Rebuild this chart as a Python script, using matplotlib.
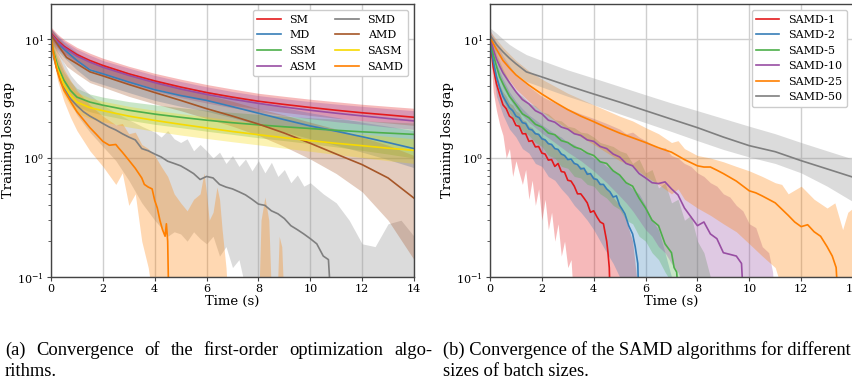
import matplotlib
matplotlib.use("Agg")
import matplotlib.pyplot as plt
from matplotlib.ticker import LogLocator, NullFormatter

plt.rcParams['font.family'] = ['DejaVu Serif']
plt.rcParams['mathtext.fontset'] = 'dejavuserif'

# ---------------- Panel (a) data ----------------
t_sm = [0, 0.25, 0.5, 1, 1.5, 2, 3, 4, 5, 6, 7, 8, 9, 10, 11, 12, 13, 14]
sm_mean = [11.2, 9.7, 8.7, 7.4, 6.6, 6.0, 5.1, 4.45, 3.95, 3.55, 3.25, 3.0, 2.82, 2.66, 2.52, 2.4, 2.3, 2.2]
sm_hi = [12.6, 11.0, 9.9, 8.5, 7.6, 6.9, 5.9, 5.15, 4.6, 4.15, 3.8, 3.5, 3.3, 3.12, 2.97, 2.83, 2.72, 2.62]
sm_lo = [10.0, 8.5, 7.6, 6.4, 5.7, 5.15, 4.4, 3.85, 3.4, 3.05, 2.78, 2.58, 2.42, 2.28, 2.16, 2.06, 1.97, 1.88]
asm_mean = [11.0, 9.5, 8.5, 7.2, 6.4, 5.8, 4.95, 4.3, 3.8, 3.42, 3.12, 2.88, 2.68, 2.52, 2.38, 2.26, 2.15, 2.05]
asm_hi = [12.3, 10.7, 9.6, 8.2, 7.3, 6.6, 5.7, 4.95, 4.4, 3.97, 3.62, 3.35, 3.15, 2.98, 2.84, 2.72, 2.6, 2.5]
asm_lo = [9.8, 8.3, 7.4, 6.2, 5.5, 4.95, 4.2, 3.65, 3.22, 2.9, 2.64, 2.44, 2.28, 2.14, 2.02, 1.92, 1.82, 1.74]

t_md = [0, 0.25, 0.5, 1, 1.5, 2, 3, 4, 5, 6, 7, 8, 9, 10, 11, 12, 13, 14]
md_mean = [10.8, 9.3, 8.2, 6.6, 5.5, 5.1, 4.35, 3.75, 3.35, 3.05, 2.7, 2.38, 2.1, 1.86, 1.68, 1.51, 1.35, 1.2]
md_hi = [12.2, 10.6, 9.4, 7.7, 6.5, 6.0, 5.15, 4.5, 4.0, 3.65, 3.28, 2.95, 2.65, 2.4, 2.2, 2.0, 1.85, 1.7]
md_lo = [9.4, 8.0, 7.0, 5.5, 4.5, 4.15, 3.55, 3.05, 2.72, 2.47, 2.18, 1.9, 1.66, 1.45, 1.28, 1.12, 0.97, 0.83]

t_amd = [0, 0.25, 0.6, 1, 1.5, 2, 3, 4, 5, 6, 7, 8, 9, 10, 11, 12, 13, 14]
amd_mean = [10.8, 9.0, 7.0, 6.2, 5.3, 4.9, 4.15, 3.55, 3.05, 2.6, 2.25, 1.93, 1.62, 1.33, 1.08, 0.88, 0.68, 0.46]
amd_hi = [12.2, 10.4, 8.5, 7.6, 6.6, 6.1, 5.2, 4.5, 3.9, 3.4, 3.0, 2.6, 2.3, 2.0, 1.75, 1.5, 1.28, 1.05]
amd_lo = [9.4, 7.6, 5.9, 5.1, 4.3, 3.95, 3.3, 2.85, 2.5, 2.15, 1.85, 1.55, 1.25, 0.98, 0.74, 0.52, 0.3, 0.14]

t_ss = [0, 0.1, 0.25, 0.5, 0.75, 1, 1.5, 2, 3, 4, 5, 6, 7, 8, 9, 10, 11, 12, 13, 14]
ssm_mean = [10.2, 7.8, 6.0, 4.5, 3.7, 3.25, 2.95, 2.78, 2.52, 2.34, 2.2, 2.08, 1.98, 1.9, 1.83, 1.77, 1.71, 1.66, 1.62, 1.58]
ssm_hi = [11.2, 8.8, 6.9, 5.3, 4.4, 3.85, 3.45, 3.25, 2.98, 2.8, 2.65, 2.52, 2.42, 2.33, 2.25, 2.18, 2.12, 2.06, 2.01, 1.97]
ssm_lo = [9.2, 6.8, 5.1, 3.8, 3.05, 2.7, 2.45, 2.3, 2.08, 1.92, 1.8, 1.68, 1.58, 1.48, 1.4, 1.32, 1.24, 1.16, 1.08, 1.0]
sasm_mean = [10.2, 7.4, 5.6, 4.1, 3.35, 2.95, 2.65, 2.5, 2.25, 2.07, 1.92, 1.79, 1.67, 1.57, 1.48, 1.4, 1.33, 1.27, 1.21, 1.16]
sasm_hi = [11.2, 8.4, 6.4, 4.9, 4.0, 3.55, 3.2, 3.0, 2.72, 2.52, 2.36, 2.22, 2.08, 1.96, 1.86, 1.76, 1.67, 1.59, 1.52, 1.45]
sasm_lo = [9.2, 6.4, 4.8, 3.4, 2.75, 2.4, 2.15, 2.02, 1.82, 1.68, 1.56, 1.46, 1.37, 1.29, 1.21, 1.14, 1.07, 1.01, 0.95, 0.9]

t_smd = [0, 0.1, 0.25, 0.4, 0.5, 0.75, 1, 1.25, 1.5, 1.75, 2, 2.25, 2.5, 2.75, 3, 3.25, 3.5, 3.75, 4, 4.25,
         4.5, 4.75, 5, 5.25, 5.5, 5.75, 6, 6.25, 6.5, 6.75, 7, 7.25, 7.5, 7.75, 8, 8.25, 8.5, 8.75, 9, 9.25,
         9.5, 9.75, 10, 10.25, 10.5, 10.7, 10.8]
smd_mean = [10.3, 7.0, 5.4, 4.3, 3.9, 3.15, 2.75, 2.45, 2.25, 2.1, 1.95, 1.82, 1.72, 1.6, 1.5, 1.42, 1.2, 1.15, 1.08, 1.02,
            0.94, 0.9, 0.86, 0.8, 0.74, 0.66, 0.7, 0.68, 0.6, 0.57, 0.55, 0.52, 0.49, 0.45, 0.41, 0.4, 0.36, 0.34, 0.31, 0.27,
            0.25, 0.23, 0.21, 0.19, 0.15, 0.14, 0.06]
tb_smd = [0, 0.25, 0.5, 0.75, 1, 1.5, 2, 2.5, 3, 3.5, 4, 4.25, 4.5, 4.75, 5, 5.25, 5.5, 5.75, 6, 6.25,
          6.5, 6.75, 7, 7.25, 7.5, 7.75, 8, 8.25, 8.5, 8.75, 9, 9.25, 9.5, 9.75, 10, 10.5, 11, 11.5, 12, 12.5,
          13, 13.5, 14]
smd_hi = [11.0, 8.0, 6.3, 5.0, 4.3, 3.4, 2.8, 2.4, 2.1, 1.85, 1.65, 1.5, 1.7, 1.45, 1.35, 1.45, 1.15, 1.3, 1.15, 1.0,
          1.12, 0.9, 1.05, 0.85, 0.98, 0.78, 0.95, 0.75, 0.92, 0.7, 0.8, 0.62, 0.72, 0.58, 0.62, 0.5, 0.42, 0.3, 0.19, 0.18,
          0.28, 0.3, 0.22]
smd_lo = [9.3, 5.5, 3.8, 2.9, 2.3, 1.65, 1.25, 0.95, 0.65, 0.42, 0.3, 0.26, 0.22, 0.24, 0.23, 0.2, 0.24, 0.21, 0.19, 0.22,
          0.15, 0.18, 0.12, 0.14, 0.08, 0.05, 0.05, 0.05, 0.05, 0.05, 0.05, 0.05, 0.05, 0.05, 0.05, 0.05, 0.05, 0.05, 0.05, 0.05,
          0.05, 0.05, 0.05]

t_samd = [0, 0.1, 0.2, 0.35, 0.5, 0.75, 1, 1.25, 1.5, 1.75, 2, 2.25, 2.5, 2.6, 2.75, 3, 3.25, 3.5, 3.6, 3.75,
          3.9, 4.0, 4.1, 4.2, 4.3, 4.4, 4.45, 4.5, 4.55]
samd_mean = [10.2, 7.5, 5.8, 4.5, 3.7, 3.0, 2.45, 2.1, 1.8, 1.58, 1.38, 1.28, 1.3, 1.22, 1.12, 0.96, 0.82, 0.68, 0.6, 0.57,
             0.55, 0.44, 0.38, 0.3, 0.25, 0.22, 0.28, 0.2, 0.05]
tb_samd = [0, 0.25, 0.5, 0.75, 1, 1.5, 2, 2.5, 2.75, 3, 3.25, 3.5, 3.75, 4, 4.25, 4.5, 4.75, 5, 5.25, 5.5,
           5.75, 5.9, 6.0, 6.1, 6.25, 6.4, 6.5, 6.6, 6.75, 6.85, 7.5, 8.0, 8.1, 8.25, 8.4, 8.5, 8.7, 8.8, 8.9, 9.0, 9.5]
samd_hi = [11.2, 7.6, 5.6, 4.5, 3.7, 2.8, 2.25, 1.9, 1.95, 1.6, 1.65, 1.3, 1.2, 1.05, 0.85, 0.7, 0.5, 0.42, 0.36, 0.45,
           0.5, 0.75, 0.5, 0.3, 0.35, 0.57, 0.45, 0.25, 0.12, 0.05, 0.05, 0.05, 0.3, 0.47, 0.3, 0.07, 0.05, 0.22, 0.18, 0.05, 0.05]
samd_lo = [9.2, 4.5, 3.0, 2.2, 1.7, 1.15, 0.85, 0.6, 0.75, 0.4, 0.5, 0.2, 0.12, 0.05, 0.05, 0.05, 0.05, 0.05, 0.05, 0.05,
           0.05, 0.05, 0.05, 0.05, 0.05, 0.05, 0.05, 0.05, 0.05, 0.05, 0.05, 0.05, 0.05, 0.05, 0.05, 0.05, 0.05, 0.05, 0.05, 0.05, 0.05]

# ---------------- Panel (b) data ----------------
t_b50 = [0, 0.25, 0.5, 0.75, 1, 1.4, 2, 3, 4, 5, 6, 7, 8, 9, 10, 11, 12, 13, 14]
b50_mean = [10.8, 9.0, 7.8, 6.9, 6.2, 5.3, 4.8, 4.05, 3.45, 2.95, 2.5, 2.12, 1.8, 1.5, 1.27, 1.13, 0.95, 0.81, 0.69]
b50_hi = [12.4, 11.2, 10.0, 9.0, 8.3, 7.4, 6.6, 5.5, 4.7, 4.0, 3.4, 2.9, 2.5, 2.15, 1.85, 1.6, 1.35, 1.15, 0.98]
b50_lo = [9.4, 7.6, 6.5, 5.7, 5.1, 4.4, 3.95, 3.3, 2.8, 2.35, 1.98, 1.67, 1.4, 1.18, 1.02, 0.9, 0.75, 0.58, 0.43]

t_b25 = [0, 0.25, 0.5, 0.75, 1, 1.5, 2, 2.5, 3, 3.5, 4, 4.5, 5, 5.5, 6, 6.5, 7, 7.5, 8, 8.25,
         8.5, 8.75, 9, 9.5, 10, 10.25, 10.5, 11, 11.5, 11.75, 12, 12.25, 12.5, 12.75, 13, 13.2, 13.35, 13.45]
b25_mean = [10.3, 8.2, 6.6, 5.7, 5.0, 4.1, 3.45, 2.95, 2.55, 2.25, 2.02, 1.8, 1.62, 1.48, 1.35, 1.22, 1.12, 0.97, 0.86, 0.84,
            0.84, 0.79, 0.74, 0.64, 0.53, 0.51, 0.48, 0.42, 0.33, 0.29, 0.265, 0.275, 0.24, 0.22, 0.18, 0.15, 0.12, 0.05]
tb_b25 = [0, 0.5, 1, 1.5, 2, 3, 4, 5, 5.5, 6, 6.5, 7, 7.25, 7.5, 8, 8.5, 9, 9.5, 10, 10.5,
          11, 11.25, 11.5, 12, 12.5, 13, 13.3, 13.6, 13.8, 14]
b25_hi = [11.6, 8.5, 6.6, 5.4, 4.6, 3.5, 2.8, 2.25, 2.05, 1.8, 1.6, 1.35, 1.4, 1.2, 1.05, 1.0, 0.93, 0.85, 0.78, 0.7,
          0.62, 0.6, 0.5, 0.58, 0.45, 0.38, 0.42, 0.25, 0.35, 0.38]
b25_lo = [9.2, 5.3, 3.8, 3.0, 2.45, 1.75, 1.3, 0.95, 0.85, 0.7, 0.6, 0.5, 0.55, 0.45, 0.38, 0.33, 0.28, 0.24, 0.19, 0.15,
          0.12, 0.08, 0.05, 0.05, 0.05, 0.05, 0.05, 0.05, 0.05, 0.05]

t_b10 = [0, 0.125, 0.25, 0.375, 0.5, 0.75, 1, 1.25, 1.5, 1.75, 2, 2.25, 2.5, 2.75, 3, 3.25, 3.5, 3.75, 4, 4.25,
         4.5, 4.75, 5, 5.25, 5.5, 5.75, 6, 6.25, 6.5, 6.75, 7, 7.25, 7.5, 7.75, 8, 8.25, 8.5, 8.75, 9, 9.25,
         9.5, 9.7, 9.8]
b10_mean = [10.3, 8.2, 6.8, 5.9, 5.2, 4.3, 3.6, 3.1, 2.85, 2.5, 2.35, 2.08, 2.0, 1.82, 1.75, 1.6, 1.55, 1.42, 1.38, 1.25,
            1.2, 1.08, 1.02, 0.9, 0.86, 0.74, 0.68, 0.62, 0.61, 0.63, 0.55, 0.49, 0.38, 0.32, 0.27, 0.29, 0.23, 0.21, 0.16, 0.155,
            0.15, 0.13, 0.05]
tb_b10 = [0, 0.5, 1, 1.5, 2, 2.5, 3, 3.5, 4, 4.5, 5, 5.25, 5.5, 5.75, 6, 6.25, 6.5, 6.75, 7, 7.25,
          7.5, 7.75, 8, 8.25, 8.5, 8.75, 9, 9.25, 9.5, 9.75, 10, 10.25, 10.5, 10.75, 10.9, 11.0]
b10_hi = [12.0, 7.2, 5.0, 4.0, 3.3, 2.9, 2.6, 2.35, 2.15, 1.95, 1.75, 1.6, 1.65, 1.5, 1.4, 1.3, 1.2, 1.22, 1.05, 1.0,
          0.9, 0.85, 0.75, 0.7, 0.62, 0.58, 0.5, 0.47, 0.4, 0.36, 0.28, 0.26, 0.18, 0.16, 0.11, 0.05]
b10_lo = [9.0, 3.9, 2.6, 2.0, 1.62, 1.35, 1.12, 0.95, 0.78, 0.62, 0.48, 0.42, 0.36, 0.3, 0.25, 0.22, 0.18, 0.16, 0.13, 0.11,
          0.08, 0.05, 0.05, 0.05, 0.05, 0.05, 0.05, 0.05, 0.05, 0.05, 0.05, 0.05, 0.05, 0.05, 0.05, 0.05]

t_b5 = [0, 0.125, 0.25, 0.375, 0.5, 0.75, 1, 1.25, 1.5, 1.75, 2, 2.25, 2.5, 2.75, 3, 3.25, 3.5, 3.75, 4, 4.25,
        4.5, 4.75, 5, 5.25, 5.5, 5.75, 6, 6.25, 6.5, 6.75, 7, 7.1, 7.2, 7.3]
b5_mean = [10.2, 7.4, 5.9, 4.8, 4.2, 3.3, 2.8, 2.35, 2.18, 1.92, 1.82, 1.62, 1.57, 1.4, 1.35, 1.24, 1.19, 1.1, 1.05, 0.93,
           0.9, 0.78, 0.72, 0.62, 0.58, 0.46, 0.38, 0.3, 0.27, 0.19, 0.16, 0.12, 0.11, 0.05]
tb_b5 = [0, 0.25, 0.5, 0.75, 1, 1.25, 1.5, 1.75, 2, 2.25, 2.5, 2.75, 3, 3.25, 3.5, 3.75, 4, 4.25, 4.5, 4.75,
         5, 5.25, 5.5, 5.75, 6, 6.25, 6.5, 6.75, 7, 7.25, 7.5, 7.75, 8, 8.25, 8.5]
b5_hi = [11.5, 7.5, 5.6, 4.4, 3.6, 3.3, 2.9, 2.75, 2.45, 2.35, 2.1, 2.05, 1.85, 1.8, 1.65, 1.62, 1.5, 1.35, 1.3, 1.25,
         1.15, 1.1, 0.9, 0.98, 0.75, 0.8, 0.56, 0.62, 0.42, 0.45, 0.3, 0.33, 0.2, 0.16, 0.1]
b5_lo = [8.8, 4.6, 3.1, 2.4, 2.0, 1.7, 1.55, 1.35, 1.25, 1.05, 1.0, 0.85, 0.82, 0.7, 0.68, 0.6, 0.58, 0.5, 0.46, 0.4,
         0.37, 0.3, 0.28, 0.22, 0.2, 0.16, 0.14, 0.11, 0.09, 0.05, 0.05, 0.05, 0.05, 0.05, 0.05]

t_b2 = [0, 0.125, 0.25, 0.375, 0.5, 0.625, 0.75, 0.875, 1, 1.125, 1.25, 1.375, 1.5, 1.625, 1.75, 1.875, 2, 2.125, 2.25, 2.375,
        2.5, 2.625, 2.75, 2.875, 3, 3.125, 3.25, 3.375, 3.5, 3.625, 3.75, 3.875, 4, 4.125, 4.25, 4.375, 4.5, 4.625, 4.75, 4.875,
        5, 5.1, 5.2, 5.35, 5.5, 5.6, 5.7, 5.75]
b2_mean = [10.0, 6.5, 4.8, 3.9, 3.3, 2.95, 2.65, 2.5, 2.25, 2.18, 1.98, 1.95, 1.75, 1.72, 1.6, 1.58, 1.45, 1.42, 1.32, 1.3,
           1.2, 1.18, 1.08, 1.05, 0.97, 0.98, 0.9, 0.88, 0.81, 0.82, 0.73, 0.74, 0.67, 0.66, 0.6, 0.6, 0.55, 0.52, 0.47, 0.48,
           0.4, 0.37, 0.34, 0.27, 0.23, 0.18, 0.13, 0.05]
tb_b2 = [0, 0.25, 0.5, 0.75, 1, 1.25, 1.5, 1.75, 2, 2.25, 2.5, 2.75, 3, 3.25, 3.5, 3.75, 4, 4.25, 4.5, 4.75,
         5, 5.25, 5.5, 5.75, 6, 6.25, 6.5, 6.75, 7]
b2_hi = [11.5, 6.2, 4.6, 3.6, 3.0, 2.6, 2.3, 2.1, 1.9, 1.75, 1.6, 1.5, 1.35, 1.3, 1.15, 1.1, 1.0, 0.95, 0.85, 0.8,
         0.72, 0.62, 0.55, 0.5, 0.4, 0.3, 0.25, 0.16, 0.1]
b2_lo = [8.6, 3.3, 2.3, 1.75, 1.5, 1.2, 1.1, 0.9, 0.85, 0.7, 0.65, 0.55, 0.48, 0.4, 0.35, 0.3, 0.25, 0.2, 0.16, 0.13,
         0.1, 0.05, 0.05, 0.05, 0.05, 0.05, 0.05, 0.05, 0.05]

t_b1 = [0, 0.125, 0.25, 0.375, 0.5, 0.625, 0.75, 0.875, 1, 1.125, 1.25, 1.375, 1.5, 1.625, 1.75, 1.875, 2, 2.125, 2.25, 2.375,
        2.5, 2.625, 2.75, 2.875, 3, 3.125, 3.25, 3.375, 3.5, 3.625, 3.75, 3.875, 4, 4.125, 4.25, 4.375, 4.5, 4.55, 4.6, 4.65]
b1_mean = [10.0, 5.8, 4.2, 3.4, 2.8, 2.6, 2.25, 2.15, 1.88, 1.85, 1.6, 1.6, 1.38, 1.4, 1.24, 1.25, 1.1, 1.08, 0.96, 0.97,
           0.85, 0.9, 0.77, 0.76, 0.65, 0.64, 0.58, 0.5, 0.5, 0.46, 0.42, 0.35, 0.36, 0.32, 0.29, 0.28, 0.2, 0.16, 0.12, 0.05]
tb_b1 = [0, 0.125, 0.25, 0.375, 0.5, 0.625, 0.75, 0.875, 1, 1.125, 1.25, 1.375, 1.5, 1.625, 1.75, 1.875, 2, 2.125, 2.25, 2.375,
         2.5, 2.625, 2.75, 2.875, 3, 3.125, 3.25, 3.5, 4, 4.5, 5, 5.25, 5.5, 5.8]
b1_hi = [11.2, 6.8, 5.0, 4.1, 3.6, 3.3, 2.9, 2.8, 2.5, 2.4, 2.1, 2.05, 1.85, 1.8, 1.65, 1.6, 1.5, 1.45, 1.35, 1.3,
         1.2, 1.18, 1.1, 1.05, 1.0, 0.95, 0.92, 0.85, 0.7, 0.55, 0.4, 0.3, 0.2, 0.05]
b1_lo = [8.8, 3.6, 2.5, 1.9, 1.55, 1.0, 1.2, 0.7, 0.95, 0.75, 0.6, 0.8, 0.45, 0.65, 0.4, 0.55, 0.3, 0.45, 0.25, 0.35,
         0.2, 0.28, 0.15, 0.2, 0.12, 0.14, 0.05, 0.05, 0.05, 0.05, 0.05, 0.05, 0.05, 0.05]

caption_a1 = '(a) Convergence of the first-order optimization algo-'
caption_a2 = 'rithms.'
caption_b1 = '(b) Convergence of the SAMD algorithms for different'
caption_b2 = 'sizes of batch sizes.'

C_RED = '#e41a1c'
C_BLUE = '#377eb8'
C_GREEN = '#4daf4a'
C_PURPLE = '#984ea3'
C_GRAY = '#7f7f7f'
C_BROWN = '#a65628'
C_YELLOW = '#f7d900'
C_ORANGE = '#ff7f00'

W, H = 853, 381
fig = plt.figure(figsize=(W / 100, H / 100), dpi=100)
ax1 = fig.add_axes([51 / W, 1 - 277 / H, 363 / W, 273 / H])
ax2 = fig.add_axes([490 / W, 1 - 277 / H, 363 / W, 273 / H])


def series(ax, t, m, tb, lo, hi, color, label, band_color=None, alpha=0.3):
    ax.fill_between(tb, lo, hi, color=band_color or color, alpha=alpha, lw=0)
    ax.plot(t, m, color=color, lw=1.2, label=label)


# panel a
series(ax1, t_sm, sm_mean, t_sm, sm_lo, sm_hi, C_RED, 'SM')
series(ax1, t_md, md_mean, t_md, md_lo, md_hi, C_BLUE, 'MD')
series(ax1, t_ss, ssm_mean, t_ss, ssm_lo, ssm_hi, C_GREEN, 'SSM')
series(ax1, t_sm, asm_mean, t_sm, asm_lo, asm_hi, C_PURPLE, 'ASM')
series(ax1, t_smd, smd_mean, tb_smd, smd_lo, smd_hi, C_GRAY, 'SMD', band_color='#999999', alpha=0.35)
series(ax1, t_amd, amd_mean, t_amd, amd_lo, amd_hi, C_BROWN, 'AMD')
series(ax1, t_ss, sasm_mean, t_ss, sasm_lo, sasm_hi, C_YELLOW, 'SASM')
series(ax1, t_samd, samd_mean, tb_samd, samd_lo, samd_hi, C_ORANGE, 'SAMD')

# panel b
series(ax2, t_b1, b1_mean, tb_b1, b1_lo, b1_hi, C_RED, 'SAMD-1')
series(ax2, t_b2, b2_mean, tb_b2, b2_lo, b2_hi, C_BLUE, 'SAMD-2')
series(ax2, t_b5, b5_mean, tb_b5, b5_lo, b5_hi, C_GREEN, 'SAMD-5')
series(ax2, t_b10, b10_mean, tb_b10, b10_lo, b10_hi, C_PURPLE, 'SAMD-10')
series(ax2, t_b25, b25_mean, tb_b25, b25_lo, b25_hi, C_ORANGE, 'SAMD-25')
series(ax2, t_b50, b50_mean, t_b50, b50_lo, b50_hi, C_GRAY, 'SAMD-50', band_color='#999999', alpha=0.35)

for ax in (ax1, ax2):
    ax.set_yscale('log')
    ax.set_xlim(0, 14)
    ax.set_ylim(0.1, 19.7)
    ax.set_xticks([0, 2, 4, 6, 8, 10, 12, 14])
    ax.yaxis.set_major_locator(LogLocator(base=10))
    ax.yaxis.set_minor_locator(LogLocator(base=10, subs=range(2, 10)))
    ax.yaxis.set_minor_formatter(NullFormatter())
    ax.grid(True, which='major', color='#cfcfcf', lw=1.0)
    ax.set_axisbelow(True)
    ax.tick_params(axis='both', which='major', labelsize=8, length=3, width=0.8, color='#444444', pad=2)
    ax.tick_params(axis='y', which='minor', length=2, width=0.6, color='#444444')
    for s in ax.spines.values():
        s.set_color('#444444')
        s.set_linewidth(1.0)
    ax.set_xlabel('Time (s)', fontsize=9.5, labelpad=1)
    ax.set_ylabel('Training loss gap', fontsize=9.5, labelpad=2)

leg1 = ax1.legend(ncol=2, loc='upper right', fontsize=8.0, frameon=True, fancybox=True,
                  labelspacing=0.52, handlelength=2.1, columnspacing=1.7, borderaxespad=0.55)
leg2 = ax2.legend(ncol=1, loc='upper right', fontsize=8.0, frameon=True, fancybox=True,
                  labelspacing=0.5, handlelength=2.1, borderaxespad=0.55)
for lg in (leg1, leg2):
    lg.get_frame().set_edgecolor('#cccccc')
    lg.get_frame().set_alpha(1.0)

cap_font = ['Liberation Serif']
CAP_FS = 13.3


def justified(text, x0, x1, ybase):
    words = text.split(' ')
    objs = [fig.text(x0 / W, 1 - ybase / H, w, fontsize=CAP_FS, family=cap_font,
                     va='baseline', ha='left') for w in words]
    r = fig.canvas.get_renderer()
    widths = [o.get_window_extent(renderer=r).width for o in objs]
    gap = (x1 - x0 - sum(widths)) / (len(words) - 1)
    x = x0
    for o, wd in zip(objs, widths):
        o.set_x(x / W)
        x += wd + gap


justified(caption_a1, 5, 432, 355)
fig.text(5 / W, 1 - 376 / H, caption_a2, fontsize=CAP_FS, family=cap_font, va='baseline', ha='left')
fig.text(443 / W, 1 - 355 / H, caption_b1, fontsize=CAP_FS, family=cap_font, va='baseline', ha='left')
fig.text(443 / W, 1 - 376 / H, caption_b2, fontsize=CAP_FS, family=cap_font, va='baseline', ha='left')

fig.savefig('out.png', dpi=100)
